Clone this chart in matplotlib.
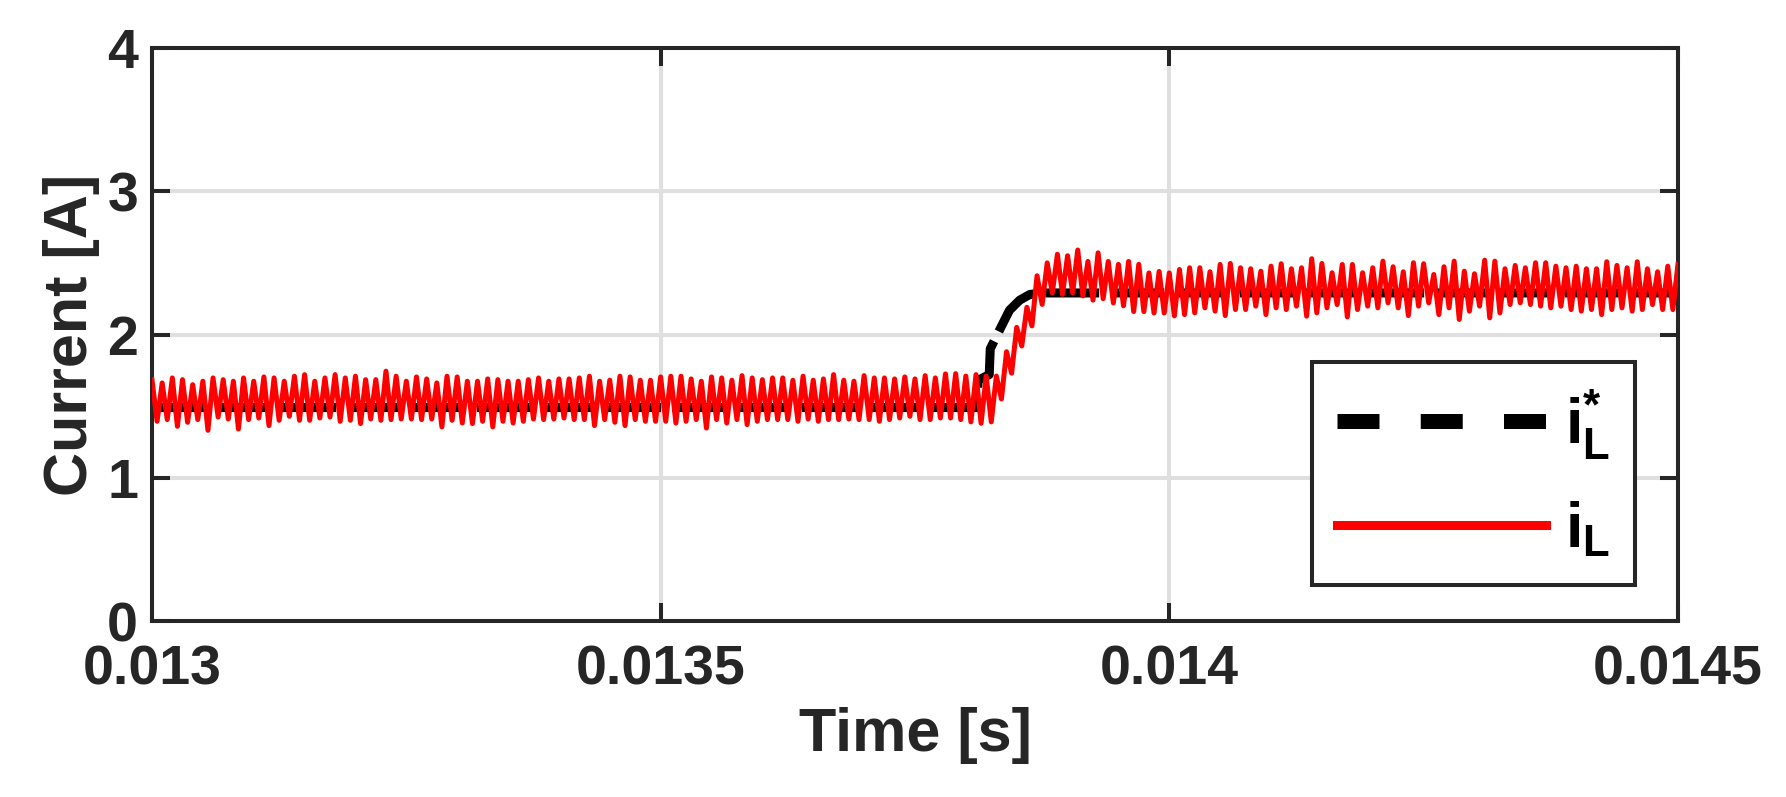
import numpy as np
import matplotlib
matplotlib.use("Agg")
import matplotlib.pyplot as plt
from matplotlib.lines import Line2D

plt.rcParams['font.family'] = ['Liberation Sans', 'DejaVu Sans']
plt.rcParams['font.weight'] = 'bold'
plt.rcParams['mathtext.fontset'] = 'custom'
plt.rcParams['mathtext.rm'] = 'Liberation Sans:bold'
plt.rcParams['mathtext.bf'] = 'Liberation Sans:bold'
plt.rcParams['mathtext.it'] = 'Liberation Sans:bold'

# ---- data ----
# inductor current: peak / trough values every half ripple period (5 us)
t_start = 0.013
half_period = 5e-6

peaks_a = [1.685, 1.662, 1.697, 1.685, 1.650, 1.674, 1.697, 1.685, 1.674, 1.697,
           1.674, 1.704, 1.697, 1.674, 1.709, 1.720, 1.674, 1.697, 1.720, 1.697,
           1.709, 1.685, 1.685, 1.744, 1.709, 1.674, 1.704, 1.690, 1.662, 1.709,
           1.704, 1.674, 1.674, 1.690, 1.685, 1.674, 1.674, 1.685, 1.697, 1.674]
troughs_a = [1.394, 1.406, 1.359, 1.387, 1.406, 1.331, 1.424, 1.410, 1.340, 1.406,
             1.417, 1.364, 1.401, 1.429, 1.401, 1.401, 1.417, 1.424, 1.394, 1.401,
             1.378, 1.410, 1.401, 1.406, 1.410, 1.410, 1.406, 1.410, 1.355, 1.401,
             1.382, 1.378, 1.394, 1.355, 1.394, 1.382, 1.394, 1.410, 1.406, 1.410]

peaks_b = [1.690, 1.690, 1.697, 1.709, 1.674, 1.681, 1.709, 1.704, 1.681, 1.681,
           1.704, 1.709, 1.709, 1.690, 1.674, 1.704, 1.697, 1.681, 1.713, 1.697,
           1.685, 1.697, 1.697, 1.681, 1.709, 1.681, 1.690, 1.720, 1.681, 1.674,
           1.713, 1.697, 1.697, 1.690, 1.704, 1.690, 1.713, 1.697, 1.725, 1.727]
troughs_b = [1.417, 1.406, 1.406, 1.364, 1.406, 1.387, 1.364, 1.406, 1.394, 1.394,
             1.394, 1.382, 1.394, 1.406, 1.347, 1.406, 1.382, 1.406, 1.371, 1.394,
             1.406, 1.406, 1.406, 1.394, 1.410, 1.394, 1.406, 1.406, 1.410, 1.406,
             1.406, 1.394, 1.406, 1.417, 1.429, 1.406, 1.406, 1.417, 1.417, 1.406]

step_vals = [1.71, 1.39, 1.72, 1.38, 1.71, 1.39, 1.71, 1.55, 1.88, 1.73,
             2.05, 1.92, 2.19, 2.06, 2.41, 2.21, 2.50, 2.29, 2.56, 2.28,
             2.55, 2.29, 2.59, 2.27, 2.51, 2.24, 2.57, 2.25, 2.51, 2.22,
             2.49, 2.20, 2.51, 2.16, 2.49, 2.16, 2.43, 2.15, 2.44, 2.15,
             2.43, 2.13]

peaks_c = [2.454, 2.466, 2.466, 2.438, 2.489, 2.496, 2.466, 2.459, 2.442, 2.477,
           2.494, 2.459, 2.466, 2.529, 2.496, 2.431, 2.489, 2.489, 2.431, 2.466,
           2.512, 2.473, 2.438, 2.501, 2.494, 2.419, 2.473, 2.512, 2.442, 2.424,
           2.519, 2.512, 2.459, 2.482, 2.466, 2.501, 2.501, 2.477, 2.466, 2.477,
           2.459, 2.459, 2.508, 2.482, 2.466, 2.508, 2.459, 2.438, 2.477, 2.489]
troughs_c = [2.139, 2.151, 2.186, 2.163, 2.132, 2.174, 2.174, 2.198, 2.139, 2.186,
             2.174, 2.198, 2.128, 2.151, 2.186, 2.209, 2.123, 2.174, 2.198, 2.186,
             2.221, 2.186, 2.132, 2.198, 2.221, 2.139, 2.186, 2.105, 2.163, 2.198,
             2.116, 2.151, 2.209, 2.221, 2.209, 2.198, 2.186, 2.198, 2.174, 2.163,
             2.174, 2.139, 2.174, 2.186, 2.163, 2.174, 2.209, 2.174, 2.174]

# current reference
ref_t = [0.013, 0.013811, 0.013812, 0.013823, 0.013824, 0.013838,
         0.013843, 0.013853, 0.013863, 0.013878, 0.0145]
ref_v = [1.49, 1.49, 1.68, 1.72, 1.90, 2.10, 2.17, 2.24, 2.28, 2.29, 2.29]

xticks = [0.013, 0.0135, 0.014, 0.0145]
xtick_labels = ['0.013', '0.0135', '0.014', '0.0145']
yticks = [0, 1, 2, 3, 4]


def interleave(peaks, troughs):
    out = np.empty(len(peaks) + len(troughs))
    out[0::2] = peaks
    out[1::2] = troughs
    return out


i_L = np.concatenate([interleave(peaks_a, troughs_a),
                      interleave(peaks_b, troughs_b),
                      step_vals,
                      interleave(peaks_c, troughs_c)])
t = t_start + np.arange(len(i_L)) * half_period

# ---- figure ----
dark = '#262626'
fig = plt.figure(figsize=(17.86, 7.97), dpi=100)
ax = fig.add_axes([0.0851, 0.2208, 0.8544, 0.7190])

ax.plot(ref_t, ref_v, color='black', lw=6.5, dashes=(6, 1.2), zorder=2)
ax.plot(t, i_L, color='red', lw=3.6, solid_joinstyle='round', zorder=3)

ax.set_xlim(0.013, 0.0145)
ax.set_ylim(0, 4)
ax.set_xticks(xticks)
ax.set_xticklabels(xtick_labels)
ax.set_yticks(yticks)

ax.grid(True, color='#dfdfdf', lw=2.9)
ax.set_axisbelow(True)
for s in ax.spines.values():
    s.set_linewidth(2.9)
    s.set_color(dark)
ax.tick_params(direction='in', length=13, width=2.9, color=dark,
               labelsize=40, labelcolor=dark, top=True, right=True)
ax.tick_params(axis='x', pad=17)
ax.tick_params(axis='y', pad=10)

ax.set_xlabel('Time [s]', fontsize=44, color=dark, fontweight='bold')
ax.set_ylabel('Current [A]', fontsize=44, color=dark, fontweight='bold')
ax.xaxis.set_label_coords(0.5, -0.15)
ax.yaxis.set_label_coords(-0.034, 0.5)

handles = [Line2D([], [], color='black', lw=10.8, dashes=(2.8, 2.75)),
           Line2D([], [], color='red', lw=6.5)]
leg = ax.legend(handles, [r'$\mathbf{i}_{\mathbf{L}}^{\mathbf{*}}$', r'$\mathbf{i}_{\mathbf{L}}$'],
                loc='upper left', bbox_to_anchor=(0.760, 0.452),
                fontsize=45, handlelength=3.35, handletextpad=0.3,
                labelspacing=0.6, borderpad=0.4, borderaxespad=0,
                fancybox=False, framealpha=1, edgecolor=dark)
leg.get_frame().set_linewidth(2.9)

fig.savefig('out.png', dpi=100)
